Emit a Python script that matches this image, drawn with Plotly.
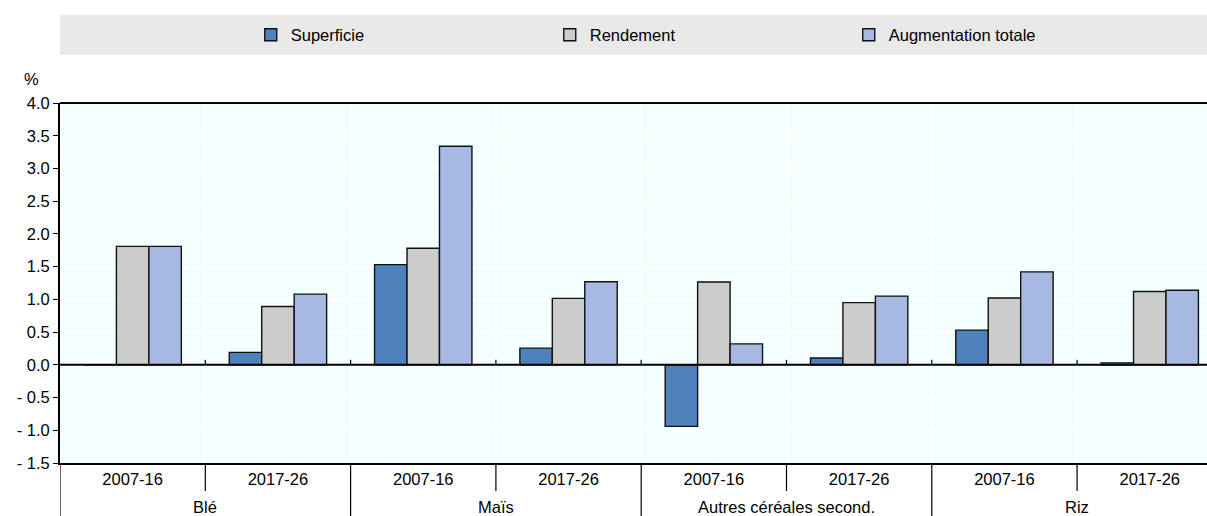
import plotly.graph_objects as go

groups = ["Blé", "Maïs", "Autres céréales second.", "Riz"]
periods = ["2007-16", "2017-26"]
series_names = ["Superficie", "Rendement", "Augmentation totale"]
superficie = [0.0, 0.19, 1.53, 0.255, -0.94, 0.105, 0.53, 0.03]
rendement = [1.81, 0.89, 1.78, 1.015, 1.265, 0.95, 1.02, 1.12]
augmentation = [1.81, 1.08, 3.34, 1.27, 0.32, 1.05, 1.42, 1.14]
colors = ["#4F81BD", "#CCCCCC", "#A7B9E3"]
y_ticks = [-1.5, -1.0, -0.5, 0.0, 0.5, 1.0, 1.5, 2.0, 2.5, 3.0, 3.5, 4.0]

FONT = "Liberation Sans Narrow, Arial Narrow, Liberation Sans, Arial, sans-serif"
FS = 16.5

n_cat = len(groups) * len(periods)
xpos = list(range(n_cat))
x_labels = [p for g in groups for p in periods]

fig = go.Figure()
for name, vals, col in zip(series_names, [superficie, rendement, augmentation], colors):
    fig.add_trace(go.Bar(
        x=xpos, y=vals, name=name,
        marker=dict(color=col, line=dict(color="#111111", width=1.4)),
    ))

def fmt(v):
    s = f"{abs(v):.1f}"
    return ("- " + s) if v < 0 else s

ymin, ymax = y_ticks[0], y_ticks[-1]
plot_w = 1207 - 60
cat_px = 145.3
xmax = -0.5 + plot_w / cat_px

shapes = []
# legend band
shapes.append(dict(type="rect", xref="paper", yref="paper", x0=0, x1=1,
                   ysizemode="pixel", yanchor=1, y0=48, y1=88,
                   fillcolor="#E9E9E9", line=dict(width=0), layer="below"))
# boundaries
npg = len(periods)
for k in range(n_cat + 1):
    b = k - 0.5
    is_group = (k % npg == 0)
    shapes.append(dict(type="line", xref="x", yref="paper", x0=b, x1=b,
                       ysizemode="pixel", yanchor=0, y0=0, y1=-60 if is_group else -28,
                       line=dict(color="#000000", width=1.2)))
    if 0 < k < n_cat:
        shapes.append(dict(type="line", xref="x", yref="y", x0=b, x1=b,
                           ysizemode="pixel", yanchor=0, y0=0, y1=5,
                           line=dict(color="#000000", width=1.2)))
# zero line
shapes.append(dict(type="line", xref="paper", yref="y", x0=0, x1=1, y0=0, y1=0,
                   line=dict(color="#000000", width=2)))
# top border
shapes.append(dict(type="line", xref="paper", yref="paper", x0=0, x1=1, y0=1, y1=1,
                   line=dict(color="#000000", width=2)))

annotations = []
for gi, g in enumerate(groups):
    cx = gi * npg + (npg - 1) / 2
    annotations.append(dict(text=g, x=cx, xref="x", y=0, yref="paper",
                            yanchor="middle", yshift=-44, showarrow=False,
                            font=dict(size=FS, color="#000000", family=FONT)))
annotations.append(dict(text="%", x=0, xref="paper", xshift=-29, y=1, yref="paper",
                        yshift=24, xanchor="center", yanchor="middle", showarrow=False,
                        font=dict(size=FS, color="#000000", family=FONT)))

fig.update_layout(
    width=1207, height=516,
    margin=dict(l=60, r=0, t=103, b=53, autoexpand=False),
    paper_bgcolor="#FFFFFF", plot_bgcolor="#F4FFFF",
    barmode="group", bargap=0.33, bargroupgap=0,
    font=dict(family=FONT, size=FS, color="#000000"),
    showlegend=True,
    legend=dict(orientation="h", x=0.1663, xanchor="left", y=1.1889, yanchor="middle",
                yref="paper", bgcolor="rgba(0,0,0,0)", entrywidth=254,
                entrywidthmode="pixels", itemwidth=30,
                font=dict(size=FS, family=FONT), traceorder="normal"),
    xaxis=dict(range=[-0.5, xmax], tickvals=xpos, ticktext=x_labels,
               showgrid=False, zeroline=False, ticks="", showline=True,
               linecolor="#000000", linewidth=2, mirror=False, automargin=False,
               minor=dict(tickvals=[k + 0.5 for k in range(n_cat - 1)],
                          showgrid=True, gridcolor="#FFFFFF", gridwidth=1.5, ticks=""),
               tickfont=dict(size=FS, family=FONT)),
    yaxis=dict(range=[ymin, ymax], tickvals=y_ticks, ticktext=[fmt(v) for v in y_ticks],
               showgrid=True, gridcolor="#FFFFFF", gridwidth=1.5, zeroline=False,
               ticks="outside", ticklen=5, tickcolor="#000000", showline=True,
               linecolor="#000000", linewidth=2, mirror=False, automargin=False,
               tickfont=dict(size=FS, family=FONT)),
    shapes=shapes, annotations=annotations,
)

fig.write_html("out.html", config={"displayModeBar": False},
               post_script="document.body.style.margin='0';document.body.style.overflow='hidden';")
